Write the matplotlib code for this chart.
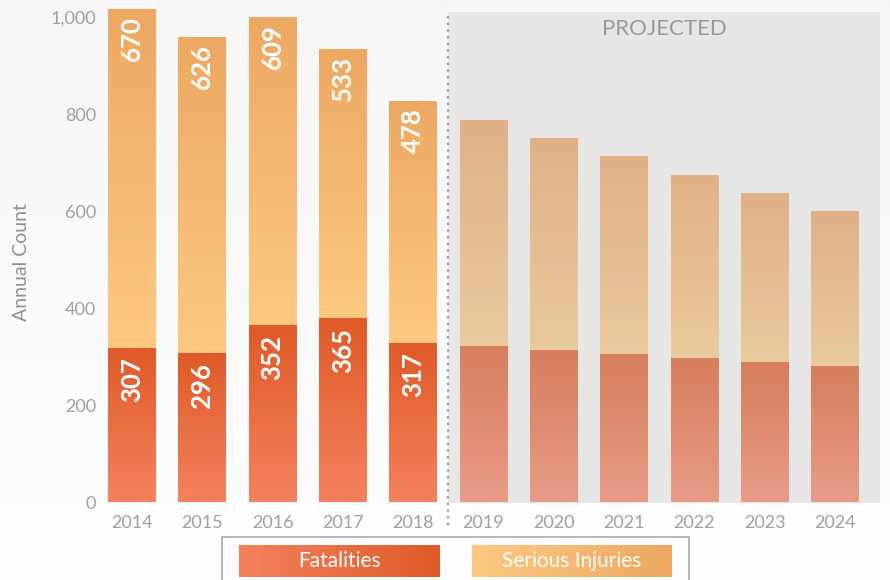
import numpy as np
import matplotlib
matplotlib.use("Agg")
import matplotlib.pyplot as plt
from matplotlib.colors import LinearSegmentedColormap
from matplotlib.patches import Rectangle
from matplotlib.lines import Line2D

plt.rcParams['font.family'] = ['Lato', 'DejaVu Sans']

# ---- data ----
years = ["2014", "2015", "2016", "2017", "2018", "2019", "2020", "2021", "2022", "2023", "2024"]
fatalities = [307, 296, 352, 365, 317, 310, 302, 294, 286, 278, 270]
serious_injuries = [670, 626, 609, 533, 478, 448, 420, 393, 363, 335, 307]
n_actual = 5  # first five years are actual; the rest are projected
y_ticks = [0, 200, 400, 600, 800, 1000]
y_tick_labels = ["0", "200", "400", "600", "800", "1,000"]
axis_scale = 1.04  # the axis ticks in the original sit slightly off the bar values
projected_top = 972

# ---- styling ----
W, H = 890, 580
fig = plt.figure(figsize=(W / 100, H / 100), dpi=100)

# background gradient
bg = fig.add_axes([0, 0, 1, 1], zorder=-10)
bg.imshow(np.linspace(0, 1, 256)[:, None], aspect='auto', extent=[0, 1, 0, 1],
          cmap=LinearSegmentedColormap.from_list('bg', ['#fefefe', '#f6f6f6']), origin='lower')
bg.set_axis_off()

ax_left, ax_right, ax_bottom, ax_top = 100, 880, 502.5, 0
ax = fig.add_axes([ax_left / W, (H - ax_bottom) / H, (ax_right - ax_left) / W, (ax_bottom - ax_top) / H])
ax.set_facecolor('none')

px_per_unit = 0.4853 * axis_scale
ymax = (ax_bottom - ax_top) / px_per_unit
xlim = (-0.455, 10.64)

x = np.arange(len(years))
width = 0.68

fat_cmap = LinearSegmentedColormap.from_list('fat', ['#f4825f', '#df5a28'])
inj_cmap = LinearSegmentedColormap.from_list('inj', ['#fdc982', '#eda862'])
fat_cmap_p = LinearSegmentedColormap.from_list('fatp', ['#e89c88', '#d77e5c'])
inj_cmap_p = LinearSegmentedColormap.from_list('injp', ['#eacb9d', '#e0b087'])

# projected region
ax.add_patch(Rectangle((n_actual - 0.5, 0), xlim[1] - (n_actual - 0.5), projected_top,
                       facecolor='#e6e6e6', edgecolor='none', zorder=0))
ax.plot([n_actual - 0.5, n_actual - 0.5], [-45, projected_top], color='#9a9a9a', lw=1.6,
        ls=(0, (1, 2)), clip_on=False, zorder=1)
ax.annotate("PROJECTED", xy=((n_actual - 0.5 + xlim[1]) / 2, projected_top), xytext=(0, -7),
            textcoords='offset pixels', ha='center', va='top', fontsize=16, color='#999999')

fat_bars = ax.bar(x, fatalities, width, color='none', edgecolor='none', zorder=2)
inj_bars = ax.bar(x, serious_injuries, width, bottom=fatalities, color='none', edgecolor='none', zorder=2)

grad = np.linspace(0, 1, 256)[:, None]
for i, (pf, pi) in enumerate(zip(fat_bars, inj_bars)):
    proj = i >= n_actual
    for patch, cm in ((pf, fat_cmap_p if proj else fat_cmap), (pi, inj_cmap_p if proj else inj_cmap)):
        x0, y0 = patch.get_x(), patch.get_y()
        w, h = patch.get_width(), patch.get_height()
        im = ax.imshow(grad, aspect='auto', extent=[x0, x0 + w, y0, y0 + h], origin='lower',
                       cmap=cm, zorder=2, interpolation='bilinear')
        im.set_clip_path(patch)

# value labels on actual bars
for i in range(n_actual):
    ax.annotate(str(fatalities[i]), xy=(x[i], fatalities[i]), xytext=(0, -10), textcoords='offset pixels',
                ha='center', va='top', rotation=90, fontsize=18.5, fontweight='bold', color='white', zorder=5)
    ax.annotate(str(serious_injuries[i]), xy=(x[i], fatalities[i] + serious_injuries[i]), xytext=(0, -7),
                textcoords='offset pixels', ha='center', va='top', rotation=90, fontsize=18.5,
                fontweight='bold', color='white', zorder=5)

ax.set_xlim(*xlim)
ax.set_ylim(0, ymax)
ax.set_xticks(x)
ax.set_xticklabels(years)
ax.set_yticks([t / axis_scale for t in y_ticks])
ax.set_yticklabels(y_tick_labels)
ax.tick_params(axis='both', length=0, colors='#a0a0a0', labelsize=13)
ax.tick_params(axis='x', pad=9)
ax.tick_params(axis='y', pad=3)
for s in ax.spines.values():
    s.set_visible(False)

fig.text(22 / W, 1 - 262 / H, "Annual Count", rotation=90, ha='center', va='center',
         fontsize=14, color='#909090')

# legend box (open at the bottom, running off the figure)
bx0, bx1, by0 = 222 / W, 689 / W, 1 - 537 / H
fig.add_artist(Line2D([bx0, bx0, bx1, bx1], [0, by0, by0, 0], transform=fig.transFigure,
                      color='#aaaaaa', lw=1.2))
legend_items = [("Fatalities", fat_cmap, 239, 440), ("Serious Injuries", inj_cmap, 472, 672)]
for label, cm, lx0, lx1 in legend_items:
    lax = fig.add_axes([lx0 / W, (H - 577) / H, (lx1 - lx0) / W, 32 / H])
    lax.imshow(np.linspace(0, 1, 256)[None, :], aspect='auto', cmap=cm, extent=[0, 1, 0, 1])
    lax.text(0.5, 0.5, label, ha='center', va='center', color='white', fontsize=15, transform=lax.transAxes)
    lax.set_axis_off()

fig.savefig("out.png", dpi=100)
